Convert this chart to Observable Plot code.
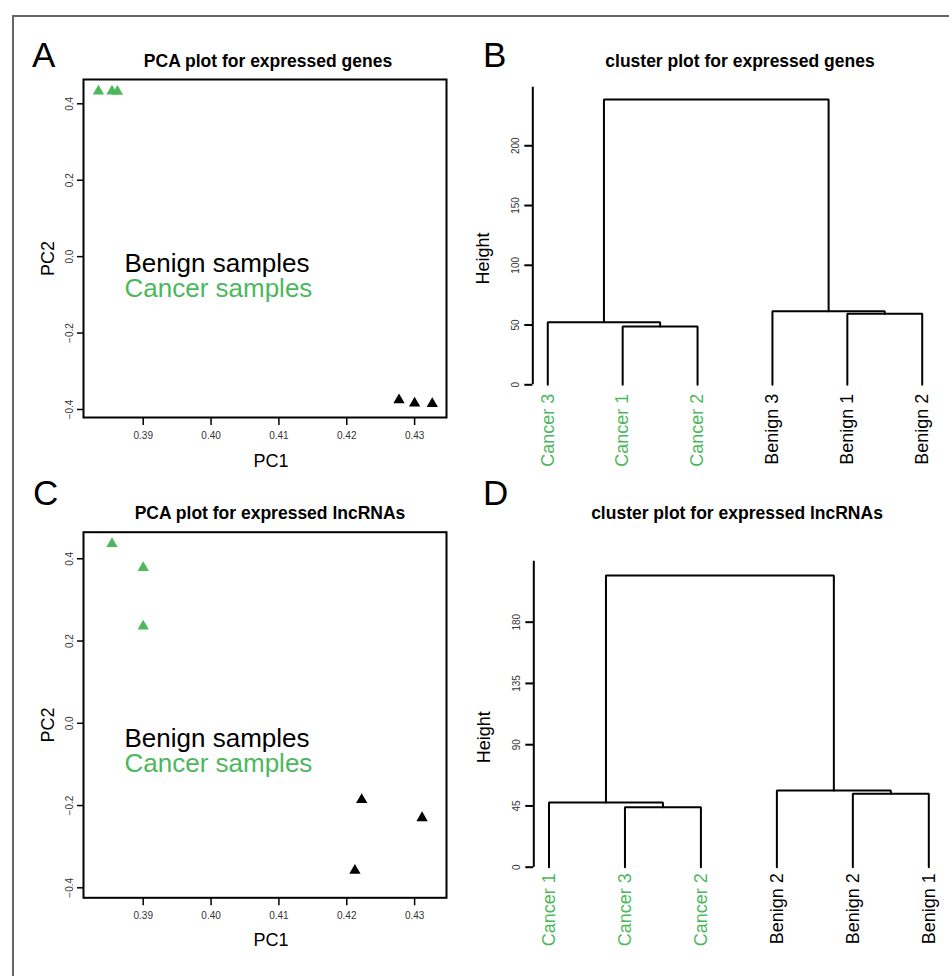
<!DOCTYPE html>
<html><head><meta charset="utf-8">
<script src="https://cdn.jsdelivr.net/npm/d3@7"></script>
<script src="https://cdn.jsdelivr.net/npm/@observablehq/plot@0.6"></script>
<style>
body{margin:0;background:#fff;font-family:"Liberation Sans",Arial,sans-serif}
#fig{position:relative;width:949px;height:976px;overflow:hidden;background:#fff}
.panel{position:absolute}
.panel svg{overflow:visible}
.outer{position:absolute;left:12px;top:15px;width:1000px;height:1000px;border-left:2px solid #666;border-top:2px solid #666}
.lab{position:absolute;line-height:1;white-space:nowrap;color:#000}
</style></head>
<body><div id="fig"><div class="outer"></div></div>
<script>
// ---------- data ----------
const groupNames = ["Benign", "Cancer"];
const groupColors = ["#000000", "#4CB85C"];
const legendLabels = ["Benign samples", "Cancer samples"];

const pcaXTicks = [0.39, 0.40, 0.41, 0.42, 0.43];
const pcaYTicks = [-0.4, -0.2, 0.0, 0.2, 0.4];

// Panel A: PCA for expressed genes
const genesGroup = ["Cancer", "Cancer", "Cancer", "Benign", "Benign", "Benign"];
const genesPC1 = [0.3834, 0.3854, 0.3862, 0.4277, 0.4300, 0.4326];
const genesPC2 = [0.433, 0.433, 0.432, -0.375, -0.3835, -0.385];

// Panel C: PCA for expressed lncRNAs
const lncGroup = ["Cancer", "Cancer", "Cancer", "Benign", "Benign", "Benign"];
const lncPC1 = [0.3854, 0.3900, 0.3900, 0.4222, 0.4311, 0.4212];
const lncPC2 = [0.4365, 0.378, 0.236, -0.186, -0.230, -0.358];

// Panel B: dendrogram, expressed genes (leaves in display order)
const genesLeaves = ["Cancer 3", "Cancer 1", "Cancer 2", "Benign 3", "Benign 1", "Benign 2"];
const genesMerge = [[-2, -3], [-1, 1], [-5, -6], [-4, 3], [2, 4]];
const genesHeights = [48.8, 52.4, 59.5, 61.6, 238.7];
const genesHeightTicks = [0, 50, 100, 150, 200];
const genesHeightAxisTop = 249;

// Panel D: dendrogram, expressed lncRNAs
const lncLeaves = ["Cancer 1", "Cancer 3", "Cancer 2", "Benign 2", "Benign 2", "Benign 1"];
const lncMerge = [[-2, -3], [-1, 1], [-5, -6], [-4, 3], [2, 4]];
const lncHeights = [44.1, 47.5, 53.9, 56.4, 214.3];
const lncHeightTicks = [0, 45, 90, 135, 180];
const lncHeightAxisTop = 224.8;

const titles = ["PCA plot for expressed genes", "cluster plot for expressed genes",
                "PCA plot for expressed lncRNAs", "cluster plot for expressed lncRNAs"];
const letters = ["A", "B", "C", "D"];

// ---------- helpers ----------
const fig = document.getElementById("fig");
const FONT = "Liberation Sans, Arial, sans-serif";
const colorOf = g => groupColors[groupNames.indexOf(g)];

function addLabel(text, x, baseline, size, {bold = false, center = false} = {}) {
  const d = document.createElement("div");
  d.className = "lab";
  d.textContent = text;
  d.style.fontSize = size + "px";
  d.style.fontWeight = bold ? "bold" : "normal";
  d.style.top = (baseline - 0.8465 * size) + "px";
  d.style.left = x + "px";
  if (center) d.style.transform = "translateX(-50%)";
  fig.appendChild(d);
}

function place(svg, left, top) {
  const w = document.createElement("div");
  w.className = "panel";
  w.style.left = left + "px";
  w.style.top = top + "px";
  w.appendChild(svg);
  fig.appendChild(w);
}

function pcaPlot(pc1, pc2, groups, xDomain, yDomain, size, m, leg, pc1Dy) {
  const data = pc1.map((x, i) => ({x, y: pc2[i], g: groups[i]}));
  return Plot.plot({
    width: size[0], height: size[1],
    marginLeft: m[0], marginRight: m[1], marginTop: m[2], marginBottom: m[3],
    style: {fontFamily: FONT, fontSize: "10px", color: "#000", background: "transparent"},
    x: {domain: xDomain},
    y: {domain: yDomain},
    color: {domain: groupNames, range: groupColors},
    marks: [
      Plot.axisX({ticks: pcaXTicks, tickFormat: d3.format(".2f"), tickSize: 8, tickPadding: 6,
                  fontSize: 10, label: null, strokeWidth: 1.5, fill: "#333"}),
      Plot.axisY({ticks: pcaYTicks, tickFormat: d3.format(".1f"), tickRotate: -90, tickSize: 6,
                  tickPadding: 5, fontSize: 10, label: null, strokeWidth: 1.5, fill: "#333"}),
      Plot.frame({stroke: "#000", strokeWidth: 2}),
      Plot.dot(data, {x: "x", y: "y", symbol: "triangle", r: 4.2, fill: "g", stroke: null}),
      ...legendLabels.map((t, i) => Plot.text([t], {text: d => d, frameAnchor: "top-left",
          textAnchor: "start", lineAnchor: "top", dx: leg[0], dy: leg[1] + i * 25,
          fontSize: 26, fill: groupColors[i]})),
      Plot.text(["PC1"], {text: d => d, frameAnchor: "bottom", lineAnchor: "top", dx: 6, dy: pc1Dy, fontSize: 18}),
      Plot.text(["PC2"], {text: d => d, frameAnchor: "left", rotate: -90, lineAnchor: "top",
          textAnchor: "middle", dx: -42.5, dy: 10, fontSize: 18})
    ]
  });
}

function dendroPoints(merge, heights) {
  const nodes = [];
  const get = c => c < 0 ? {x: -c, h: 0} : nodes[c - 1];
  const pts = [];
  merge.forEach(([a, b], i) => {
    const A = get(a), B = get(b), h = heights[i];
    pts.push({id: i, x: A.x, y: A.h}, {id: i, x: A.x, y: h}, {id: i, x: B.x, y: h}, {id: i, x: B.x, y: B.h});
    nodes.push({x: (A.x + B.x) / 2, h});
  });
  return pts;
}

function dendroPlot(leaves, merge, heights, ticks, axisTop, size, m, leafDy, hDy) {
  const pts = dendroPoints(merge, heights);
  const n = leaves.length;
  const xDomain = [1 - 0.04 * (n - 1), n + 0.04 * (n - 1)];
  return Plot.plot({
    width: size[0], height: size[1],
    marginLeft: m[0], marginRight: m[1], marginTop: m[2], marginBottom: m[3],
    style: {fontFamily: FONT, fontSize: "10px", color: "#000", background: "transparent"},
    x: {domain: xDomain, axis: null},
    y: {domain: [0, axisTop]},
    marks: [
      Plot.axisY({ticks, tickRotate: -90, tickSize: 8, tickPadding: 6, fontSize: 10, label: null,
                  strokeWidth: 2, fill: "#333"}),
      Plot.ruleX([xDomain[0]], {stroke: "#000", strokeWidth: 2}),
      Plot.line(pts, {x: "x", y: "y", z: "id", stroke: "#000", strokeWidth: 2, strokeLinejoin: "miter"}),
      Plot.text(leaves, {x: (d, i) => i + 1, y: () => 0, text: d => d, rotate: -90, textAnchor: "end",
          dy: leafDy, fontSize: 18, fill: d => colorOf(d.split(" ")[0])}),
      Plot.text(["Height"], {text: d => d, frameAnchor: "left", rotate: -90, lineAnchor: "top",
          textAnchor: "middle", dx: -56.8, dy: hDy, fontSize: 18})
    ]
  });
}

// ---------- panels ----------
const pcaXDomain = [0.3812, 0.4347];
place(pcaPlot(genesPC1, genesPC2, genesGroup, pcaXDomain, [-0.421, 0.4636], [475, 480],
  [83, 29, 79, 63], [41, 174.2], 36.5), 0, 0);
place(pcaPlot(lncPC1, lncPC2, lncGroup, pcaXDomain, [-0.4243, 0.4646], [475, 496],
  [83, 29, 51.7, 78.7], [41, 196.5], 35), 0, 480);
place(dendroPlot(genesLeaves, genesMerge, genesHeights, genesHeightTicks, genesHeightAxisTop,
  [484, 480], [67.3, 12.3, 86.7, 95.7], 9, 22.5), 465, 0);
place(dendroPlot(lncLeaves, lncMerge, lncHeights, lncHeightTicks, lncHeightAxisTop,
  [484, 496], [68.3, 5.5, 80.7, 109.3], 6, 23), 465, 480);

// letters and titles
addLabel(letters[0], 32, 67, 35);
addLabel(letters[1], 483, 67, 35);
addLabel(letters[2], 33, 505, 35);
addLabel(letters[3], 483, 505, 35);
addLabel(titles[0], 268, 68, 17.5, {bold: true, center: true});
addLabel(titles[1], 740, 68, 17.5, {bold: true, center: true});
addLabel(titles[2], 270, 520, 17.5, {bold: true, center: true});
addLabel(titles[3], 737, 520, 17.5, {bold: true, center: true});
</script>
</body></html>
